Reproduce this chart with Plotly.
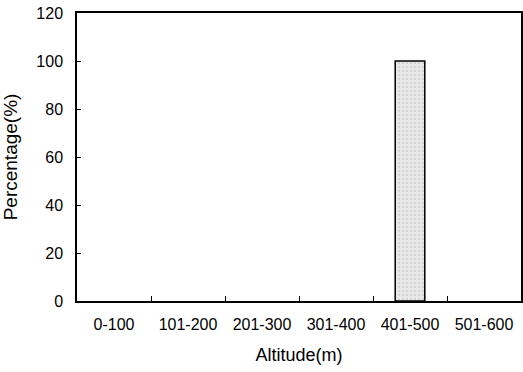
import plotly.graph_objects as go

categories = ["0-100", "101-200", "201-300", "301-400", "401-500", "501-600"]
percentages = [0, 0, 0, 0, 100, 0]
y_ticks = [0, 20, 40, 60, 80, 100, 120]

outline_widths = [1.5 if v > 0 else 0 for v in percentages]

fig = go.Figure(go.Bar(
    x=categories,
    y=percentages,
    width=0.4,
    marker=dict(
        color="#e8e8e8",
        line=dict(color="black", width=outline_widths),
        pattern=dict(shape=".", fgcolor="#9a9a9a", size=4, solidity=0.15),
    ),
))

font = "Arial, Liberation Sans, sans-serif"
fig.update_layout(
    width=523, height=372,
    margin=dict(l=77, r=2, t=13, b=71),
    paper_bgcolor="white", plot_bgcolor="white",
    showlegend=False,
    font=dict(family=font, size=16, color="black"),
)
fig.update_xaxes(
    type="category",
    automargin=False,
    showline=True, linecolor="black", linewidth=1.5, mirror=True,
    ticks="inside", tickson="boundaries", ticklen=5, tickcolor="black",
    showgrid=False,
    tickfont=dict(size=16),
    ticklabelstandoff=8,
    ticklabeloverflow="allow",
    title=dict(text="Altitude(m)", font=dict(size=18), standoff=16),
)
fig.update_yaxes(
    automargin=False,
    range=[0, 120], tickvals=y_ticks,
    showline=True, linecolor="black", linewidth=1.5, mirror=True,
    ticks="inside", ticklen=4, tickcolor="black",
    showgrid=False, zeroline=False,
    tickfont=dict(size=16),
    ticklabelstandoff=9,
    ticklabeloverflow="allow",
    title=dict(text="Percentage(%)", font=dict(size=19), standoff=18),
)

fig.write_html(
    "out.html",
    config={"displayModeBar": False},
    post_script="document.body.style.margin='0';document.body.style.overflow='hidden';",
)
